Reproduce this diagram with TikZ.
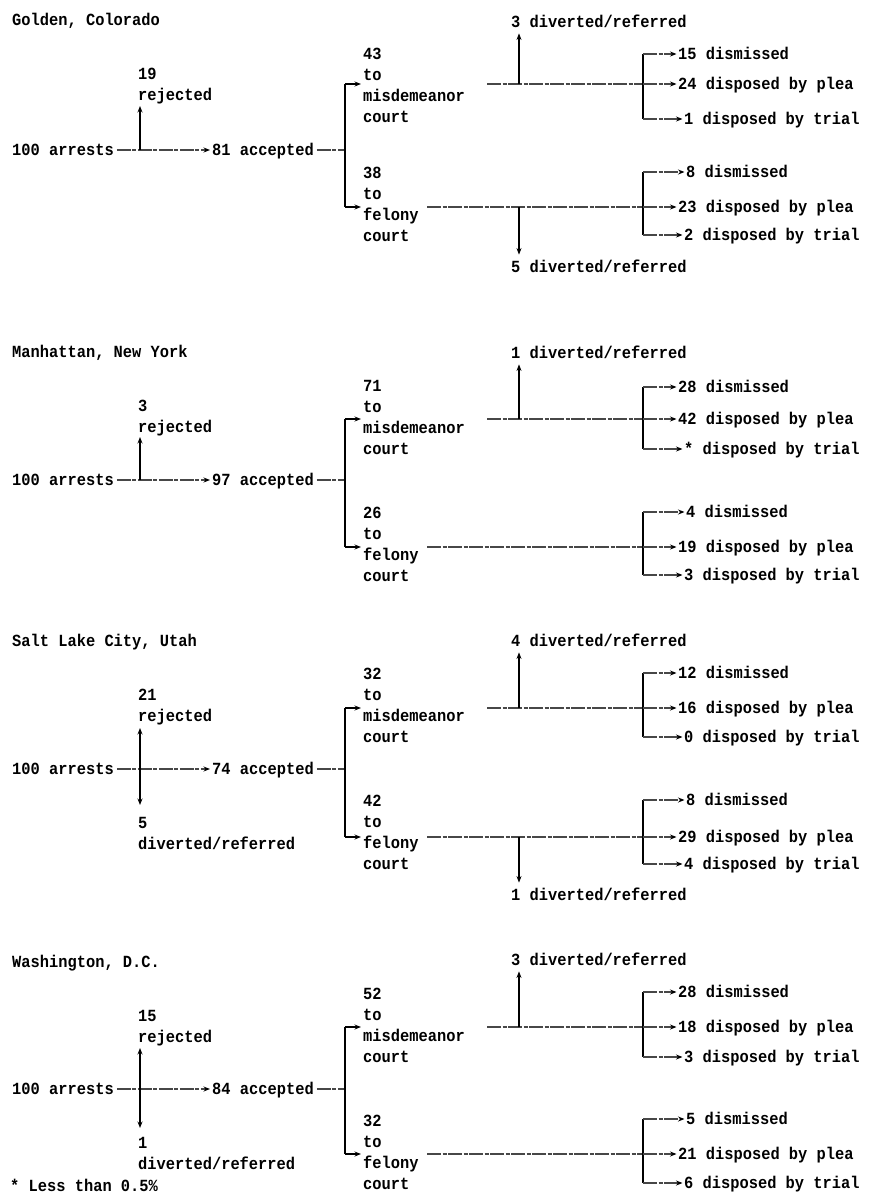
\documentclass[tikz,border=0pt]{standalone}
\usepackage{fontspec}
\newfontfamily\labfam{Liberation Mono}[FakeStretch=0.905]
\usetikzlibrary{arrows.meta}
\newcommand\labf{\labfam\bfseries\fontsize{17}{21.2}\selectfont}
\tikzset{
  txt/.style={font=\labf, inner sep=0pt, anchor=west, text height=10.4pt, text depth=0pt},
  stk/.style={font=\labf, inner sep=0pt, anchor=north west, align=left},
  ln/.style={line width=1.5pt, draw=black},
  hl/.style={line width=1.3pt, draw=black!72, dash pattern=on 14pt off 1.5pt on 4pt off 1.5pt},
  tip/.style={-{Stealth[length=6.5pt,width=5pt,black]}},
}
% right-hand fan to existing nodes #1a,#1b,#1c: #2 top y, #3 middle y, #4 bottom y, #5 line start x
\newcommand\fan[5]{%
  \coordinate (#1s) at (#5,#3);
  \coordinate (#1t) at (643,#2);
  \coordinate (#1m) at (643,#3);
  \coordinate (#1u) at (643,#4);
  \draw[hl] (#1s) -- (#1m);
  \draw[ln] (#1t) -- (#1u);
  \draw[hl,tip] (#1t) -- ([xshift=-1.5pt]#1a.west);
  \draw[hl,tip] (#1m) -- ([xshift=-1.5pt]#1b.west);
  \draw[hl,tip] (#1u) -- ([xshift=-1.5pt]#1c.west);
}
\begin{document}
\begin{tikzpicture}[x=1pt,y=-1pt]
\fill[white] (0,0) rectangle (879,1195);
\useasboundingbox (0,0) rectangle (879,1195);

% ---------------- Golden, Colorado ----------------
\node[txt] (t1) at (12,20) {Golden, Colorado};
\node[txt] (a1) at (12,150) {100 arrests};
\node[txt] (c1) at (212,150) {81 accepted};
\node[stk] (r1) at (138,67.8) {19\\rejected};
\coordinate (j1) at (140,150);
\coordinate (j1u) at (140,106);
\draw[hl,tip,shorten <=3pt] (a1.east) -- ([xshift=-2pt]c1.west);
\draw[ln,tip] (j1) -- (j1u);
\coordinate (b1t) at (345,84);
\coordinate (b1b) at (345,207);
\coordinate (b1c) at (345,150);
\draw[hl,shorten <=3pt] (c1.east) -- (b1c);
\draw[ln] (b1t) -- (b1b);
\node[stk] (m1) at (363,47.8) {43\\to\\misdemeanor\\court};
\node[stk] (f1) at (363,166.8) {38\\to\\felony\\court};
\draw[ln,tip] (b1t) -- (361,84);
\draw[ln,tip] (b1b) -- (361,207);
\node[txt] (o1a) at (678,54) {15 dismissed};
\node[txt] (o1b) at (678,84) {24 disposed by plea};
\node[txt] (o1c) at (684,119) {1 disposed by trial};
\fan{o1}{54}{84}{119}{487}
\node[txt] (u1) at (511,22) {3 diverted/referred};
\coordinate (v1a) at (519,84);
\draw[ln,tip,shorten >=6pt] (v1a) -- (v1a |- u1.south);
\node[txt] (p1a) at (686,172) {8 dismissed};
\node[txt] (p1b) at (678,207) {23 disposed by plea};
\node[txt] (p1c) at (684,235) {2 disposed by trial};
\fan{p1}{172}{207}{235}{427}
\node[txt] (d1) at (511,267) {5 diverted/referred};
\coordinate (v1b) at (519,207);
\draw[ln,tip,shorten >=7pt] (v1b) -- (v1b |- d1.north);

% ---------------- Manhattan, New York ----------------
\node[txt] (t2) at (12,352) {Manhattan, New York};
\node[txt] (a2) at (12,480) {100 arrests};
\node[txt] (c2) at (212,480) {97 accepted};
\node[stk] (r2) at (138,399.8) {3\\rejected};
\coordinate (j2) at (140,480);
\coordinate (j2u) at (140,437);
\draw[hl,tip,shorten <=3pt] (a2.east) -- ([xshift=-2pt]c2.west);
\draw[ln,tip] (j2) -- (j2u);
\coordinate (b2t) at (345,419);
\coordinate (b2b) at (345,547);
\coordinate (b2c) at (345,480);
\draw[hl,shorten <=3pt] (c2.east) -- (b2c);
\draw[ln] (b2t) -- (b2b);
\node[stk] (m2) at (363,379.8) {71\\to\\misdemeanor\\court};
\node[stk] (f2) at (363,506.8) {26\\to\\felony\\court};
\draw[ln,tip] (b2t) -- (361,419);
\draw[ln,tip] (b2b) -- (361,547);
\node[txt] (o2a) at (678,387) {28 dismissed};
\node[txt] (o2b) at (678,419) {42 disposed by plea};
\node[txt] (o2c) at (684,449) {* disposed by trial};
\fan{o2}{387}{419}{449}{487}
\node[txt] (u2) at (511,353) {1 diverted/referred};
\coordinate (v2a) at (519,419);
\draw[ln,tip,shorten >=6pt] (v2a) -- (v2a |- u2.south);
\node[txt] (p2a) at (686,512) {4 dismissed};
\node[txt] (p2b) at (678,547) {19 disposed by plea};
\node[txt] (p2c) at (684,575) {3 disposed by trial};
\fan{p2}{512}{547}{575}{427}

% ---------------- Salt Lake City, Utah ----------------
\node[txt] (t3) at (12,641) {Salt Lake City, Utah};
\node[txt] (a3) at (12,769) {100 arrests};
\node[txt] (c3) at (212,769) {74 accepted};
\node[stk] (r3) at (138,688.8) {21\\rejected};
\node[stk] (e3) at (138,816.8) {5\\diverted/referred};
\coordinate (j3) at (140,769);
\coordinate (j3u) at (140,728);
\coordinate (j3d) at (140,805);
\draw[hl,tip,shorten <=3pt] (a3.east) -- ([xshift=-2pt]c3.west);
\draw[ln,tip] (j3) -- (j3u);
\draw[ln,tip] (j3) -- (j3d);
\coordinate (b3t) at (345,708);
\coordinate (b3b) at (345,837);
\coordinate (b3c) at (345,769);
\draw[hl,shorten <=3pt] (c3.east) -- (b3c);
\draw[ln] (b3t) -- (b3b);
\node[stk] (m3) at (363,667.8) {32\\to\\misdemeanor\\court};
\node[stk] (f3) at (363,794.8) {42\\to\\felony\\court};
\draw[ln,tip] (b3t) -- (361,708);
\draw[ln,tip] (b3b) -- (361,837);
\node[txt] (o3a) at (678,673) {12 dismissed};
\node[txt] (o3b) at (678,708) {16 disposed by plea};
\node[txt] (o3c) at (684,737) {0 disposed by trial};
\fan{o3}{673}{708}{737}{487}
\node[txt] (u3) at (511,641) {4 diverted/referred};
\coordinate (v3a) at (519,708);
\draw[ln,tip,shorten >=6pt] (v3a) -- (v3a |- u3.south);
\node[txt] (p3a) at (686,800) {8 dismissed};
\node[txt] (p3b) at (678,837) {29 disposed by plea};
\node[txt] (p3c) at (684,864) {4 disposed by trial};
\fan{p3}{800}{837}{864}{427}
\node[txt] (d3) at (511,895) {1 diverted/referred};
\coordinate (v3b) at (519,837);
\draw[ln,tip,shorten >=7pt] (v3b) -- (v3b |- d3.north);

% ---------------- Washington, D.C. ----------------
\node[txt] (t4) at (12,962) {Washington, D.C.};
\node[txt] (a4) at (12,1089) {100 arrests};
\node[txt] (c4) at (212,1089) {84 accepted};
\node[stk] (r4) at (138,1009.8) {15\\rejected};
\node[stk] (e4) at (138,1136.8) {1\\diverted/referred};
\coordinate (j4) at (140,1089);
\coordinate (j4u) at (140,1048);
\coordinate (j4d) at (140,1128);
\draw[hl,tip,shorten <=3pt] (a4.east) -- ([xshift=-2pt]c4.west);
\draw[ln,tip] (j4) -- (j4u);
\draw[ln,tip] (j4) -- (j4d);
\coordinate (b4t) at (345,1027);
\coordinate (b4b) at (345,1154);
\coordinate (b4c) at (345,1089);
\draw[hl,shorten <=3pt] (c4.east) -- (b4c);
\draw[ln] (b4t) -- (b4b);
\node[stk] (m4) at (363,987.8) {52\\to\\misdemeanor\\court};
\node[stk] (f4) at (363,1114.8) {32\\to\\felony\\court};
\draw[ln,tip] (b4t) -- (361,1027);
\draw[ln,tip] (b4b) -- (361,1154);
\node[txt] (o4a) at (678,992) {28 dismissed};
\node[txt] (o4b) at (678,1027) {18 disposed by plea};
\node[txt] (o4c) at (684,1057) {3 disposed by trial};
\fan{o4}{992}{1027}{1057}{487}
\node[txt] (u4) at (511,960) {3 diverted/referred};
\coordinate (v4a) at (519,1027);
\draw[ln,tip,shorten >=6pt] (v4a) -- (v4a |- u4.south);
\node[txt] (p4a) at (686,1119) {5 dismissed};
\node[txt] (p4b) at (678,1154) {21 disposed by plea};
\node[txt] (p4c) at (684,1183) {6 disposed by trial};
\fan{p4}{1119}{1154}{1183}{427}

\node[txt] (fn) at (10,1186) {* Less than 0.5\%};
\end{tikzpicture}
\end{document}
